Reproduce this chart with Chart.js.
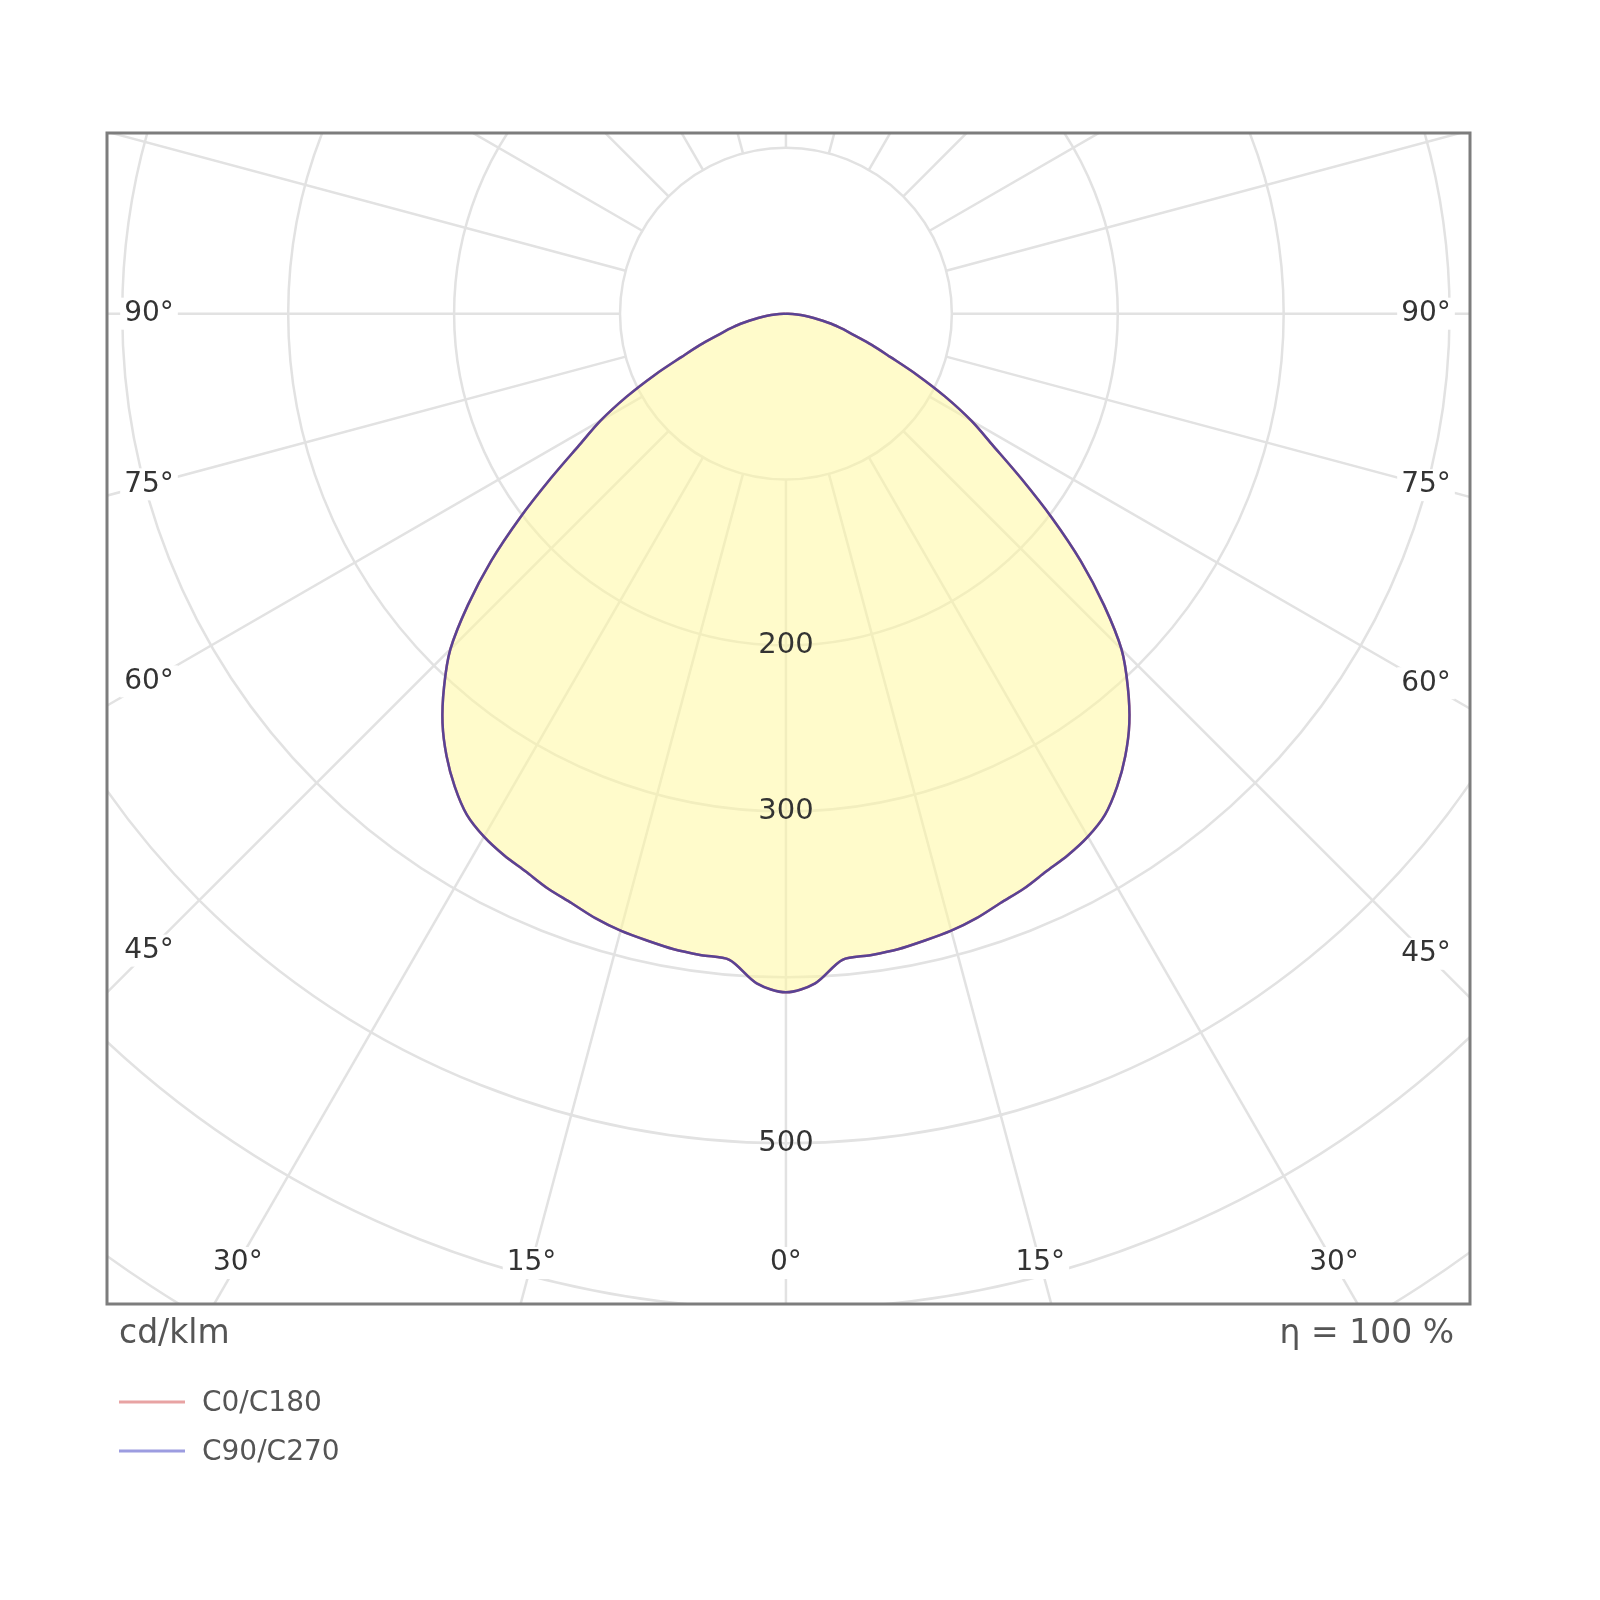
<!DOCTYPE html>
<html>
<head>
<meta charset="utf-8">
<title>Polar light distribution</title>
<script src="https://cdn.jsdelivr.net/npm/chart.js@4.4.1/dist/chart.umd.min.js"></script>
<style>
  html, body { margin: 0; padding: 0; background: #fff; }
  #chart { display: block; }
</style>
</head>
<body>
<canvas id="chart" width="1600" height="1600"></canvas>
<script>
// gamma angle from nadir (deg) and luminous intensity in cd/klm
const gammaAngles = [0, 2.5, 5, 7.5, 10, 12.5, 15, 17.5, 20, 22.5, 25, 27.5, 30, 32.5, 35, 37.5, 40, 42.5,
  45, 47.5, 50, 52.5, 55, 57.5, 60, 62.5, 65, 67.5, 70, 72.5, 75, 77.5, 80, 82.5, 85, 87.5, 90];
const c0c180 = [409, 404, 391, 390, 389, 387, 385, 382, 378, 375, 371, 368, 364, 358, 348, 336, 322, 305,
  286, 260, 232, 202, 173, 148, 129, 108, 87, 68, 55, 43, 35, 28, 20, 14, 9, 4, 0];
const c90c270 = [409, 404, 391, 390, 389, 387, 385, 382, 378, 375, 371, 368, 364, 358, 348, 336, 322, 305,
  286, 260, 232, 202, 173, 148, 129, 108, 87, 68, 55, 43, 35, 28, 20, 14, 9, 4, 0];

const seriesNames = ["C0/C180", "C90/C270"];
const seriesColors = ["#d9777a", "rgba(82,64,150,0.95)"];
const legendColors = ["#e8a3a3", "#9c9ce0"];

const ringValues = [100, 200, 300, 400, 500, 600, 700, 800];
const ringLabels = [200, 300, 500];
const angleTicks = [0, 15, 30, 45, 60, 75, 90];
const spokeStep = 15;

const unitText = "cd/klm";
const etaText = "η = 100 %";

const FONT = "'DejaVu Sans', Verdana, sans-serif";

// one half goes out on the right (C0 / C90), the other comes back on the left (C180 / C270)
function polarPoints(values) {
  const pts = [];
  for (let i = gammaAngles.length - 1; i >= 0; i--) {
    const g = gammaAngles[i] * Math.PI / 180;
    pts.push({ x: values[i] * Math.sin(g), y: -values[i] * Math.cos(g) });
  }
  for (let i = 1; i < gammaAngles.length; i++) {
    const g = gammaAngles[i] * Math.PI / 180;
    pts.push({ x: -values[i] * Math.sin(g), y: -values[i] * Math.cos(g) });
  }
  return pts;
}

const polarGrid = {
  id: "polarGrid",
  beforeDraw(chart) {
    const ctx = chart.ctx;
    ctx.save();
    ctx.fillStyle = "#fff";
    ctx.fillRect(0, 0, chart.width, chart.height);
    ctx.restore();
  },
  beforeDatasetsDraw(chart) {
    const { ctx, chartArea: a, scales: { x, y } } = chart;
    const cx = x.getPixelForValue(0), cy = y.getPixelForValue(0);
    ctx.save();
    ctx.beginPath();
    ctx.rect(a.left, a.top, a.width, a.height);
    ctx.clip();
    ctx.strokeStyle = "#e2e2e2";
    ctx.lineWidth = 2.5;
    ringValues.forEach(v => {
      const r = x.getPixelForValue(v) - cx;
      ctx.beginPath();
      ctx.arc(cx, cy, r, 0, Math.PI * 2);
      ctx.stroke();
    });
    const r0 = x.getPixelForValue(ringValues[0]) - cx;
    const r1 = x.getPixelForValue(ringValues[ringValues.length - 1]) - cx;
    for (let deg = 0; deg < 360; deg += spokeStep) {
      const t = deg * Math.PI / 180;
      const sx = Math.sin(t), sy = Math.cos(t);
      ctx.beginPath();
      ctx.moveTo(cx + sx * r0, cy + sy * r0);
      ctx.lineTo(cx + sx * r1, cy + sy * r1);
      ctx.stroke();
    }
    ctx.restore();
  },
  afterDatasetsDraw(chart) {
    const { ctx, chartArea: a, scales: { x, y } } = chart;
    const cx = x.getPixelForValue(0), cy = y.getPixelForValue(0);
    ctx.save();
    ctx.textAlign = "center";
    ctx.textBaseline = "middle";

    // intensity labels down the nadir line
    ctx.font = "29px " + FONT;
    ctx.fillStyle = "#333";
    ringLabels.forEach(v => {
      ctx.fillText(String(v), cx, y.getPixelForValue(-v));
    });

    // angle labels where the spokes meet an inset of the frame
    const inL = a.left + 42, inR = a.right - 44, inB = a.bottom - 41;
    ctx.font = "28px " + FONT;
    [-1, 1].forEach(side => {
      angleTicks.forEach(g => {
        if (side === 1 && g === 0) return;
        const t = g * Math.PI / 180;
        const dx = side * Math.sin(t), dy = Math.cos(t);
        let k = Infinity;
        if (dx < -1e-6) k = Math.min(k, (inL - cx) / dx);
        if (dx > 1e-6) k = Math.min(k, (inR - cx) / dx);
        if (dy > 1e-6) k = Math.min(k, (inB - cy) / dy);
        const px = cx + dx * k, py = cy + dy * k;
        const txt = g + "°";
        const w = ctx.measureText(txt).width;
        ctx.fillStyle = "#fff";
        ctx.fillRect(px - w / 2 - 4, py - 16, w + 8, 32);
        ctx.fillStyle = "#333";
        ctx.fillText(txt, px, py);
      });
    });
    ctx.restore();
  },
  afterDraw(chart) {
    const { ctx, chartArea: a } = chart;
    ctx.save();
    ctx.strokeStyle = "#7d7d7d";
    ctx.lineWidth = 3;
    ctx.strokeRect(a.left, a.top, a.width, a.height);

    ctx.textBaseline = "middle";
    ctx.fillStyle = "#555";
    ctx.font = "33px " + FONT;
    ctx.textAlign = "left";
    ctx.fillText(unitText, a.left + 12, a.bottom + 30);
    ctx.textAlign = "right";
    ctx.fillText(etaText, a.right - 16, a.bottom + 30);

    // legend
    ctx.font = "28px " + FONT;
    ctx.textAlign = "left";
    chart.data.datasets.forEach((ds, i) => {
      const ly = a.bottom + 98 + i * 49;
      ctx.strokeStyle = legendColors[i];
      ctx.lineWidth = 3;
      ctx.beginPath();
      ctx.moveTo(a.left + 12, ly);
      ctx.lineTo(a.left + 78, ly);
      ctx.stroke();
      ctx.fillStyle = "#555";
      ctx.fillText(ds.label, a.left + 95, ly + 2);
    });
    ctx.restore();
  }
};

new Chart(document.getElementById("chart"), {
  type: "line",
  data: {
    datasets: [
      {
        label: seriesNames[0],
        data: polarPoints(c0c180),
        borderColor: seriesColors[0],
        backgroundColor: "rgba(255,248,160,0.55)",
        borderWidth: 2.5,
        fill: "shape",
        pointRadius: 0,
        tension: 0.3,
        order: 2
      },
      {
        label: seriesNames[1],
        data: polarPoints(c90c270),
        borderColor: seriesColors[1],
        borderWidth: 2.5,
        fill: false,
        pointRadius: 0,
        tension: 0.3,
        order: 1
      }
    ]
  },
  options: {
    responsive: false,
    animation: false,
    layout: { padding: { left: 107, top: 133, right: 130, bottom: 296 } },
    scales: {
      x: { type: "linear", min: -409.2, max: 412.3, display: false },
      y: { type: "linear", min: -596.9, max: 108.9, display: false }
    },
    plugins: {
      legend: { display: false },
      tooltip: { enabled: false }
    }
  },
  plugins: [polarGrid]
});
</script>
</body>
</html>
